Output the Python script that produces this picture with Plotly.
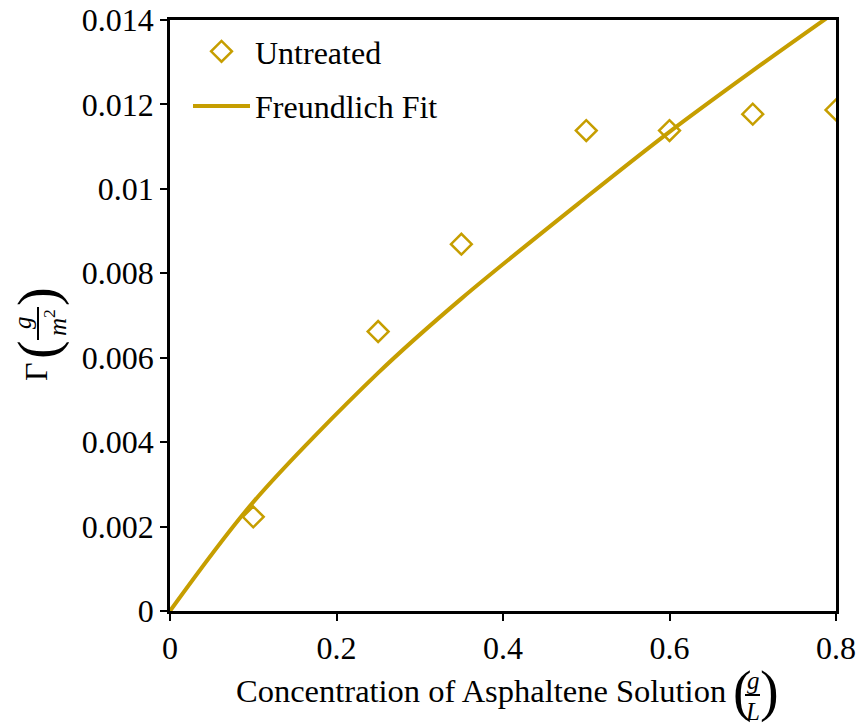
import plotly.graph_objects as go

# ---- data ----
conc = [0.1, 0.25, 0.35, 0.5, 0.6, 0.7, 0.8]
gamma = [0.00223, 0.00662, 0.00869, 0.01138, 0.01138, 0.01177, 0.01187]

fit_conc = [0, 0.1, 0.25, 0.35, 0.5, 0.6, 0.7, 0.8]
fit_gamma = [0, 0.00258, 0.00564, 0.0074, 0.0098, 0.01135, 0.0128, 0.0142]

x_ticks = [0, 0.2, 0.4, 0.6, 0.8]
x_ticktext = ["0", "0.2", "0.4", "0.6", "0.8"]
y_ticks = [0, 0.002, 0.004, 0.006, 0.008, 0.01, 0.012, 0.014]
y_ticktext = ["0", "0.002", "0.004", "0.006", "0.008", "0.01", "0.012", "0.014"]

GOLD = "#C69E00"
FONT = "Liberation Serif"

W, H = 860, 724
L, R, T, B = 170, 24, 20, 113
PW, PH = W - L - R, H - T - B


def px_x(p):
    return (p - L) / PW


def px_y(p):
    return (H - B - p) / PH


fig = go.Figure()
fig.add_trace(go.Scatter(
    x=conc, y=gamma, mode="markers", name="Untreated", legendgroup="a",
    marker=dict(symbol="diamond-open", size=16, color=GOLD, line=dict(width=2.5, color=GOLD)),
))
fig.add_trace(go.Scatter(
    x=fit_conc, y=fit_gamma, mode="lines", name="Freundlich Fit", legendgroup="b",
    line=dict(color=GOLD, width=4, shape="spline", smoothing=0.9),
))

axis_common = dict(
    showline=True, linecolor="black", linewidth=2.5, mirror=True,
    ticks="outside", ticklen=7, tickwidth=2, tickcolor="black",
    showgrid=False, zeroline=False, automargin=False,
    tickfont=dict(family=FONT, size=32, color="black"),
)
fig.update_xaxes(range=[0, 0.8], tickvals=x_ticks, ticktext=x_ticktext, **axis_common)
fig.update_yaxes(range=[0, 0.014], tickvals=y_ticks, ticktext=y_ticktext, **axis_common)


def note(text, xp, yp, size, angle=0):
    return dict(text=text, x=px_x(xp), y=px_y(yp), xref="paper", yref="paper",
                xanchor="center", yanchor="middle", showarrow=False, textangle=angle,
                font=dict(family=FONT, size=size, color="black"))


ann = [
    # x-axis title
    note("Concentration of Asphaltene Solution", 481, 691, 32.5),
    note("(", 742, 691, 56),
    note(")", 769, 691, 56),
    note("<i>g</i>", 753, 680, 25),
    note("<i>L</i>", 752, 711, 25),
    # y-axis title (rotated)
    note("Γ", 36, 372, 32, -90),
    note("(", 38, 350, 56, -90),
    note(")", 38, 297, 56, -90),
    note("<i>g</i>", 22, 323, 25, -90),
    note("<i>m</i><sup>2</sup>", 55, 323, 25, -90),
]

shapes = [
    dict(type="line", xref="paper", yref="paper", x0=px_x(745), x1=px_x(760),
         y0=px_y(695), y1=px_y(695), line=dict(color="black", width=2)),
    dict(type="line", xref="paper", yref="paper", x0=px_x(38), x1=px_x(38),
         y0=px_y(307), y1=px_y(340), line=dict(color="black", width=2)),
]

fig.update_layout(
    width=W, height=H,
    margin=dict(l=L, r=R, t=T, b=B),
    paper_bgcolor="white", plot_bgcolor="white",
    font=dict(family=FONT, size=32, color="black"),
    showlegend=True,
    legend=dict(x=px_x(188), y=px_y(24), xanchor="left", yanchor="top",
                bgcolor="rgba(0,0,0,0)", font=dict(family=FONT, size=32, color="black"),
                itemwidth=57, tracegroupgap=10, traceorder="grouped"),
    annotations=ann, shapes=shapes,
)

fig.write_html("out.html", config={"displayModeBar": False},
               post_script="document.body.style.margin='0';document.body.style.overflow='hidden';")
